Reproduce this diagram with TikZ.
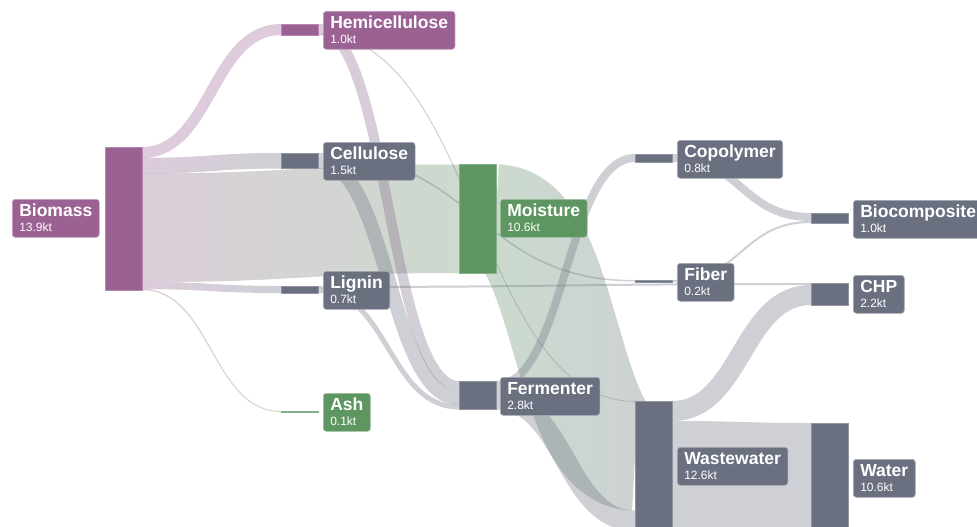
\documentclass[tikz,border=0pt]{standalone}
\usepackage{fontspec}
\setmainfont{Liberation Sans}
\usetikzlibrary{calc,backgrounds,fadings}
\definecolor{purp}{RGB}{154,97,146}
\definecolor{slate}{RGB}{106,112,128}
\definecolor{grn}{RGB}{94,150,98}
\tikzfading[name=fadeout, left color=transparent!0, right color=transparent!100]
\newcommand\lbltext[2]{\vbox{\offinterlineskip
  \hbox{\fontsize{17.5}{17.5}\selectfont\bfseries\raisebox{0pt}[17pt][0pt]{#1}}%
  \hbox{\fontsize{12}{12}\selectfont\raisebox{0pt}[15pt][6pt]{#2}}}}
% centre curve of a flow: src node, src offset, width, tgt node, tgt offset
\newcommand\flowpath[5]{%
  let \p1=(#1.north east), \p2=(#4.north west), \p3=($(\p1)!0.5!(\p2)$) in
  (\x1,\y1-#2pt-#3pt/2) .. controls (\x3,\y1-#2pt-#3pt/2) and (\x3,\y2-#5pt-#3pt/2) .. (\x2,\y2-#5pt-#3pt/2)}
% single-colour flow
\newcommand\flow[6]{%
  \draw[flowline, line width=#3pt, draw=#6] \flowpath{#1}{#2}{#3}{#4}{#5};}
% flow whose colour changes from source to target
\newcommand\gflow[7]{%
  \begin{scope}[transparency group, opacity=0.33]
  \draw[line width=#3pt, draw=#7, line cap=butt] \flowpath{#1}{#2}{#3}{#4}{#5};
  \draw[line width=#3pt, draw=#6, line cap=butt, path fading=fadeout]
    let \p1=(#1.north east), \p2=(#4.north west) in
    (\x1,\y1-#2pt+1pt) (\x1,\y1-#2pt-#3pt-1pt) (\x2,\y2-#5pt+1pt) (\x2,\y2-#5pt-#3pt-1pt)
    \flowpath{#1}{#2}{#3}{#4}{#5};
  \end{scope}}
\tikzset{
  bar/.style={rectangle, fill=#1, draw=#1!75!white, line width=0.5pt, inner sep=0pt, outer sep=0pt, minimum width=37pt, anchor=north west},
  labelbox/.style={rectangle, rounded corners=3pt, fill=#1, draw=#1!60!white, line width=0.6pt, text=white, inner xsep=7pt, inner ysep=0pt, anchor=north west},
  flowline/.style={draw opacity=0.33, line cap=butt}
}
\begin{document}
\begin{tikzpicture}[x=1pt, y=-1pt]
\useasboundingbox (0,0) rectangle (977,527);
% bars
\node[bar=purp,  minimum height=143pt]   (bio)   at (105,147) {};
\node[bar=purp,  minimum height=11pt]    (hemi)  at (281,24) {};
\node[bar=slate, minimum height=15.5pt]  (cell)  at (281,153) {};
\node[bar=slate, minimum height=7pt]     (lig)   at (281,286) {};
\node[bar=grn,   minimum height=1.5pt]   (ash)   at (281,411) {};
\node[bar=grn,   minimum height=108.5pt] (moist) at (459,164.5) {};
\node[bar=slate, minimum height=28.5pt]  (ferm)  at (459,381) {};
\node[bar=slate, minimum height=8pt]     (copo)  at (635,154) {};
\node[bar=slate, minimum height=2pt]     (fiber) at (635,280) {};
\node[bar=slate, minimum height=130pt]   (ww)    at (635,401) {};
\node[bar=slate, minimum height=10pt]    (bioc)  at (811,213) {};
\node[bar=slate, minimum height=22pt]    (chp)   at (811,283) {};
\node[bar=slate, minimum height=110pt]   (water) at (811,423) {};
% flows
\begin{pgfonlayer}{background}
\flow{bio}{0}{11}{hemi}{0}{purp}
\gflow{bio}{11}{15.5}{cell}{0}{purp}{slate}
\gflow{bio}{26.5}{108.5}{moist}{0}{purp}{grn}
\gflow{bio}{135}{7}{lig}{0}{purp}{slate}
\gflow{bio}{142}{1}{ash}{0}{purp}{grn}
\gflow{hemi}{0}{10}{ferm}{0}{purp}{slate}
\gflow{hemi}{10}{0.8}{ww}{0}{purp}{slate}
\flow{cell}{0}{1.5}{fiber}{0}{slate}
\flow{cell}{1.5}{14}{ferm}{10}{slate}
\flow{lig}{0}{2}{chp}{0}{slate}
\flow{lig}{2}{5}{ferm}{23.5}{slate}
\gflow{moist}{0}{108.5}{ww}{1}{grn}{slate}
\flow{ferm}{0}{8}{copo}{0}{slate}
\flow{ferm}{8}{20.5}{ww}{109.5}{slate}
\flow{copo}{0}{8}{bioc}{0}{slate}
\flow{fiber}{0}{2}{bioc}{8}{slate}
\flow{ww}{0}{20}{chp}{2}{slate}
\flow{ww}{20}{110}{water}{0}{slate}
\end{pgfonlayer}
% labels
\node[labelbox=purp]  (bioL)   at (12,199)  {\lbltext{Biomass}{13.9kt}};
\node[labelbox=purp]  (hemiL)  at (323,11)  {\lbltext{Hemicellulose}{1.0kt}};
\node[labelbox=slate] (cellL)  at (323,142) {\lbltext{Cellulose}{1.5kt}};
\node[labelbox=slate] (ligL)   at (323,271) {\lbltext{Lignin}{0.7kt}};
\node[labelbox=grn]   (ashL)   at (323,393) {\lbltext{Ash}{0.1kt}};
\node[labelbox=grn]   (moistL) at (500,199) {\lbltext{Moisture}{10.6kt}};
\node[labelbox=slate] (fermL)  at (500,377) {\lbltext{Fermenter}{2.8kt}};
\node[labelbox=slate] (copoL)  at (677,140) {\lbltext{Copolymer}{0.8kt}};
\node[labelbox=slate] (fiberL) at (677,263) {\lbltext{Fiber}{0.2kt}};
\node[labelbox=slate] (wwL)    at (677,447) {\lbltext{Wastewater}{12.6kt}};
\node[labelbox=slate] (biocL)  at (853,200) {\lbltext{Biocomposite}{1.0kt}};
\node[labelbox=slate] (chpL)   at (853,275) {\lbltext{CHP}{2.2kt}};
\node[labelbox=slate] (waterL) at (853,459) {\lbltext{Water}{10.6kt}};
\end{tikzpicture}
\end{document}
